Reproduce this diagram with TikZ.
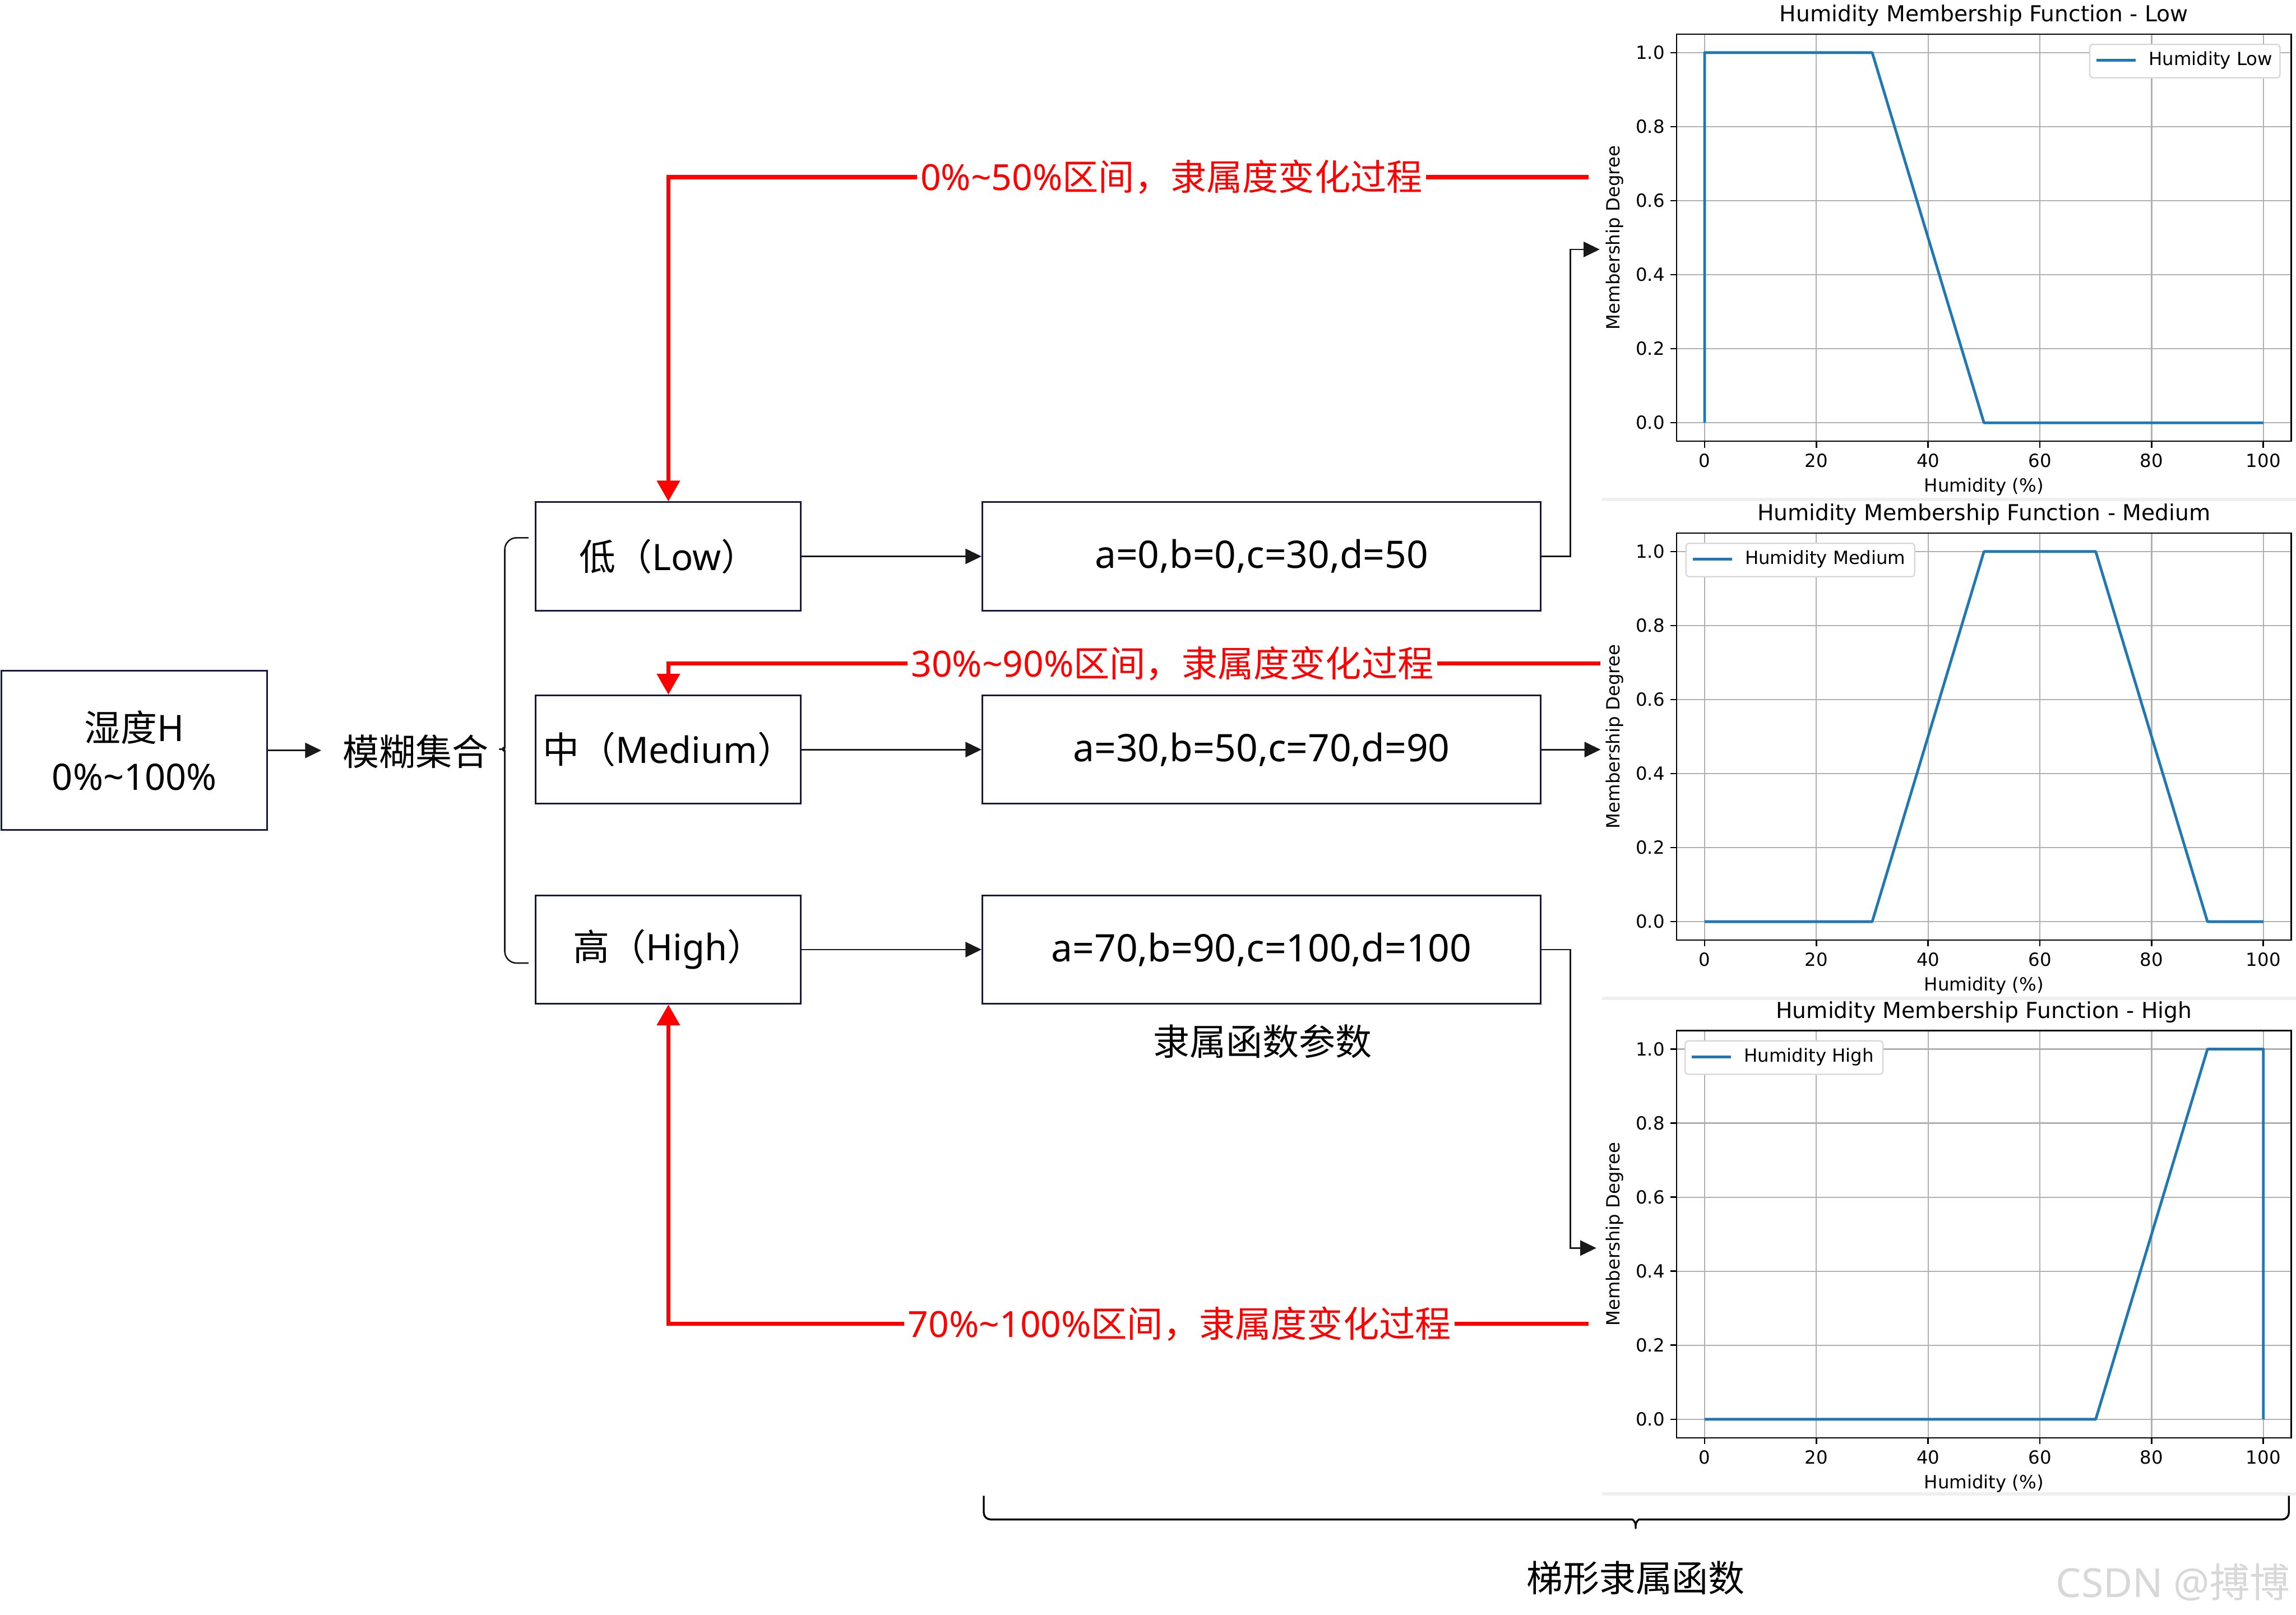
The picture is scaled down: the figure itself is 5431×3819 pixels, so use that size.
\documentclass[tikz,border=0pt]{standalone}
\usepackage{fontspec}
\setmainfont{Noto Sans}
\newfontfamily\cjk{Noto Sans CJK SC}
\newfontfamily\mpl{DejaVu Sans}
\usetikzlibrary{arrows.meta}

\definecolor{boxedge}{RGB}{22,26,62}
\definecolor{mplblue}{HTML}{1F77B4}
\definecolor{mplgrid}{HTML}{B0B0B0}
\definecolor{legedge}{HTML}{D6D6D6}
\definecolor{sepgray}{HTML}{EFEFEF}
\definecolor{wmgray}{HTML}{D8D8D8}
\definecolor{hlred}{HTML}{FF0000}

\tikzset{
  txt/.style={font=\fontsize{24.5}{33}\selectfont, text=black},
  stepbox/.style={draw=boxedge, line width=0.04cm, minimum height=2.56cm,
    inner sep=0pt, txt},
  parbox/.style={stepbox, minimum width=13.2cm, font=\fontsize{25.5}{33}\selectfont},
  blk/.style={draw=black!90, line width=0.035cm,
    -{Triangle[length=0.38cm, width=0.36cm]}},
  redlab/.style={font=\fontsize{24.2}{30}\selectfont, text=hlred,
    inner xsep=0.08cm, inner ysep=0pt},
  redline/.style={draw=hlred, line width=0.095cm},
  redarrow/.style={redline, -{Triangle[length=0.49cm, width=0.53cm]}},
  bracel/.style={draw=black!90, line width=0.035cm, line join=round},
  braceb/.style={draw=black, line width=0.045cm, line join=round},
  mplgridline/.style={draw=mplgrid, line width=0.03cm},
  mplspine/.style={draw=black, line width=0.034cm},
  mplcurve/.style={draw=mplblue, line width=0.064cm, line join=round},
  mpltick/.style={font=\mpl\fontsize{12.2}{14}\selectfont, inner sep=0pt},
  mpltitle/.style={font=\mpl\fontsize{14.8}{17}\selectfont, inner sep=0pt},
  legbox/.style={draw=legedge, fill=white, line width=0.03cm,
    rounded corners=0.08cm},
}

% One membership-function panel.
% #1 top of the axes frame, #2 title suffix, #3 legend label,
% #4 curve path in data units, #5 legend left edge, #6 legend width,
% #7 prefix for node names
\newcommand\mfplot[7]{%
  \begin{scope}[shift={(0,#1)}]
    \begin{scope}[shift={(4032,918)}, x=0.1321cm, y=8.75cm]
      \foreach \gx in {0,20,40,60,80,100}{
        \draw[mplgridline] (\gx,-0.05) -- (\gx,1.05);
        \draw[mplspine] (\gx,-0.05) -- ++(0pt,-0.15cm);
        \node[mpltick] (#7x\gx) at (\gx,-0.1026) {\gx};
      }
      \foreach \gy/\nm in {0.0/0,0.2/2,0.4/4,0.6/6,0.8/8,1.0/10}{
        \draw[mplgridline] (-5,\gy) -- (105,\gy);
        \draw[mplspine] (-5,\gy) -- ++(-0.15cm,0pt);
        \node[mpltick, anchor=east] (#7y\nm) at (-7.1,\gy) {\gy};
      }
      \draw[mplcurve] #4;
      \draw[mplspine] (-5,-0.05) rectangle (105,1.05);
      \node[mpltitle] (#7title) at (50,1.1003) {Humidity Membership Function - #2};
      \node[mpltick] (#7xlab) at (50,-0.1734) {Humidity (\%)};
      \node[mpltick, rotate=90] (#7ylab) at (-16.05,0.5) {Membership Degree};
    \end{scope}
    \draw[legbox] (#5,23) rectangle ++(#6,79);
    \draw[mplcurve] (#5+16,61) -- ++(93,0);
    \node[mpltick, anchor=west] (#7leg) at (#5+139,61) {#3};
  \end{scope}}

\begin{document}
\begin{tikzpicture}[x=0.01cm, y=-0.01cm]
\useasboundingbox (0,0) rectangle (5431,3819);

% ---- input variable and fuzzy sets ----
\node[stepbox, minimum width=6.28cm, minimum height=3.76cm, align=center]
  (hum) at (318,1775) {{\cjk 湿度}H\\0\%\textasciitilde100\%};
\node[txt, inner xsep=0.5cm, inner ysep=0pt] (fuzzy) at (983,1778) {\cjk 模糊集合};
\draw[blk] (hum.east) -- (hum.east -| fuzzy.west);

\draw[bracel, rounded corners=0.28cm]
  (1250,1272) -- (1194,1272) -- (1194,1742)
  .. controls (1194,1764) and (1184,1772) .. (1165,1772)
  .. controls (1184,1772) and (1194,1780) .. (1194,1802)
  -- (1194,2278) -- (1250,2278);

\node[stepbox, minimum width=6.27cm] (low)  at (1581,1316) {{\cjk 低（}Low{\cjk ）}};
\node[stepbox, minimum width=6.27cm] (med)  at (1581,1773) {{\cjk 中（}Medium{\cjk ）}};
\node[stepbox, minimum width=6.27cm] (high) at (1581,2246) {{\cjk 高（}High{\cjk ）}};

% ---- trapezoid parameters ----
\node[parbox] (p1) at (2984,1316) {a=0,b=0,c=30,d=50};
\node[parbox] (p2) at (2984,1773) {a=30,b=50,c=70,d=90};
\node[parbox] (p3) at (2984,2246) {a=70,b=90,c=100,d=100};
\node[txt] (plabel) at (2986,2463) {\cjk 隶属函数参数};

\draw[blk] (low) -- (p1);
\draw[blk] (med) -- (p2);
\draw[blk] (high) -- (p3);

\coordinate (t1) at (3784,590);
\coordinate (t2) at (3786,1773);
\coordinate (t3) at (3776,2952);
\draw[blk] (p1.east) -- ++(68,0) |- (t1);
\draw[blk] (p2.east) -- (t2);
\draw[blk] (p3.east) -- ++(68,0) |- (t3);

% ---- membership ranges fed back to the fuzzy sets ----
\coordinate (r1) at (3758,419);
\coordinate (r2) at (3786,1569);
\coordinate (r3) at (3758,3131);
\node[redlab] (lab1) at (2771,419)  {0\%\textasciitilde50\%{\cjk 区间，隶属度变化过程}};
\node[redlab] (lab2) at (2773,1569) {30\%\textasciitilde90\%{\cjk 区间，隶属度变化过程}};
\node[redlab] (lab3) at (2790,3131) {70\%\textasciitilde100\%{\cjk 区间，隶属度变化过程}};
\draw[redline] (r1) -- (lab1.east);
\draw[redarrow] (lab1.west) -| (low.north);
\draw[redline] (r2) -- (lab2.east);
\draw[redarrow] (lab2.west) -| (med.north);
\draw[redline] (r3) -- (lab3.east);
\draw[redarrow] (lab3.west) -| (high.south);

% ---- membership function panels ----
\mfplot{82}{Low}{Humidity Low}{(0,0) -- (0,1) -- (30,1) -- (50,0) -- (100,0)}{4943}{450}{pa}
\mfplot{1262}{Medium}{Humidity Medium}{(0,0) -- (30,0) -- (50,1) -- (70,1) -- (90,0) -- (100,0)}{3988}{541}{pb}
\mfplot{2439}{High}{Humidity High}{(0,0) -- (70,0) -- (90,1) -- (100,1) -- (100,0)}{3986}{468}{pc}

\fill[sepgray] (3790,1178) rectangle (5431,1186);
\fill[sepgray] (3790,2357) rectangle (5431,2365);
\fill[sepgray] (3790,3530) rectangle (5431,3538);

% ---- bottom brace ----
\draw[braceb, rounded corners=0.16cm]
  (2327,3538) -- (2327,3594) -- (3845,3594)
  .. controls (3862,3594) and (3869,3600) .. (3869,3624)
  .. controls (3869,3600) and (3876,3594) .. (3893,3594)
  -- (5414,3594) -- (5414,3538);
\node[txt] (blabel) at (3869,3732) {\cjk 梯形隶属函数};

\node[font=\fontsize{27}{30}\selectfont, text=wmgray, inner sep=0pt]
  (wm) at (5140,3742) {CSDN @{\cjk 搏博}};
\end{tikzpicture}
\end{document}
